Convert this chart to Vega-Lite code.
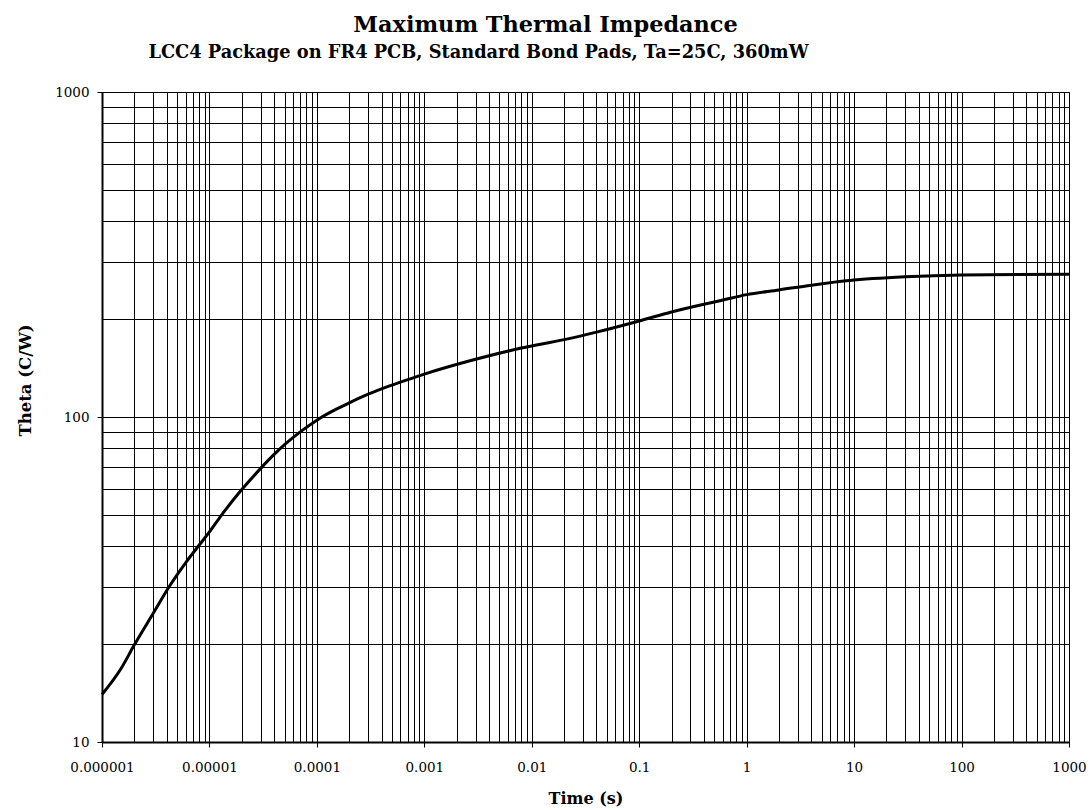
{
  "$schema": "https://vega.github.io/schema/vega-lite/v6.json",
  "autosize": "none",
  "width": 967,
  "height": 650,
  "padding": {"left": 102, "top": 92, "right": 22, "bottom": 68},
  "background": "#ffffff",
  "config": {
    "view": {"stroke": "#000000", "strokeWidth": 1},
    "font": "DejaVu Serif",
    "axis": {"labelFont": "DejaVu Serif", "titleFont": "DejaVu Serif"},
    "title": {"font": "DejaVu Serif"}
  },
  "title": {
    "text": "Maximum Thermal Impedance",
    "anchor": "middle",
    "dx": -40,
    "dy": 27,
    "font": "DejaVu Serif",
    "fontSize": 22.4,
    "fontWeight": "bold",
    "color": "#000000",
    "baseline": "alphabetic",
    "offset": 16
  },
  "data": {
    "values": [
      {"time": 0.000001, "theta": 14},
      {"time": 0.0000015, "theta": 16.8},
      {"time": 0.000002, "theta": 19.9},
      {"time": 0.000003, "theta": 24.9},
      {"time": 0.0000042, "theta": 30},
      {"time": 0.000006, "theta": 35.6},
      {"time": 0.000008, "theta": 40.3},
      {"time": 0.00001, "theta": 44.3},
      {"time": 0.000013, "theta": 50},
      {"time": 0.00002, "theta": 59.8},
      {"time": 0.00003, "theta": 69.5},
      {"time": 0.00004, "theta": 76.7},
      {"time": 0.00005, "theta": 82.2},
      {"time": 0.00007, "theta": 90},
      {"time": 0.0001, "theta": 97.8},
      {"time": 0.00015, "theta": 105.5},
      {"time": 0.0002, "theta": 110.5},
      {"time": 0.0003, "theta": 117.5},
      {"time": 0.0004, "theta": 122},
      {"time": 0.0006, "theta": 128},
      {"time": 0.001, "theta": 135.5},
      {"time": 0.003, "theta": 150.5},
      {"time": 0.008, "theta": 163},
      {"time": 0.02, "theta": 173},
      {"time": 0.04, "theta": 182.5},
      {"time": 0.1, "theta": 197.5},
      {"time": 0.2, "theta": 210.5},
      {"time": 0.6, "theta": 229},
      {"time": 1, "theta": 238},
      {"time": 2, "theta": 246},
      {"time": 4, "theta": 254.5},
      {"time": 9, "theta": 263},
      {"time": 30, "theta": 270},
      {"time": 100, "theta": 273.5},
      {"time": 1000, "theta": 275}
    ]
  },
  "resolve": {"axis": {"x": "independent"}},
  "layer": [
    {
      "mark": {"type": "line", "color": "#000000", "strokeWidth": 3, "interpolate": "monotone"},
      "encoding": {
        "x": {
          "field": "time",
          "type": "quantitative",
          "scale": {"type": "log", "domain": [0.000001, 1000], "nice": false},
          "axis": {
            "orient": "bottom",
            "title": "Time (s)",
            "titleFont": "DejaVu Serif",
            "titleFontSize": 16,
            "titleFontWeight": "bold",
            "titleColor": "#000000",
            "titlePadding": 17,
            "values": [0.000001,0.000002,0.000003,0.000004,0.000005,0.000006,0.000007,0.000008,0.000009,
                       0.00001,0.00002,0.00003,0.00004,0.00005,0.00006,0.00007,0.00008,0.00009,
                       0.0001,0.0002,0.0003,0.0004,0.0005,0.0006,0.0007,0.0008,0.0009,
                       0.001,0.002,0.003,0.004,0.005,0.006,0.007,0.008,0.009,
                       0.01,0.02,0.03,0.04,0.05,0.06,0.07,0.08,0.09,
                       0.1,0.2,0.3,0.4,0.5,0.6,0.7,0.8,0.9,
                       1,2,3,4,5,6,7,8,9,
                       10,20,30,40,50,60,70,80,90,
                       100,200,300,400,500,600,700,800,900,1000],
            "labelExpr": "indexof([0.000001,0.00001,0.0001,0.001,0.01,0.1,1,10,100,1000], datum.value) >= 0 ? format(datum.value, '~f') : ''",
            "labelFont": "DejaVu Serif",
            "labelFontSize": 13.5,
            "labelColor": "#000000",
            "labelPadding": 13,
            "labelOverlap": false,
            "labelFlush": false,
            "grid": true,
            "gridColor": "#000000",
            "gridWidth": 1,
            "gridOpacity": 1,
            "domainColor": "#000000",
            "domainWidth": 2,
            "tickColor": "#000000",
            "tickSize": 5,
            "tickWidth": 1,
            "tickOpacity": {"condition": {"test": "indexof([0.000001,0.00001,0.0001,0.001,0.01,0.1,1,10,100,1000], datum.value) >= 0", "value": 1}, "value": 0}
          }
        },
        "y": {
          "field": "theta",
          "type": "quantitative",
          "scale": {"type": "log", "domain": [10, 1000], "nice": false},
          "axis": {
            "title": "Theta (C/W)",
            "titleFont": "DejaVu Serif",
            "titleFontSize": 16.5,
            "titleFontWeight": "bold",
            "titleColor": "#000000",
            "titlePadding": 21,
            "titleY": 288,
            "titleAlign": "center",
            "values": [10,20,30,40,50,60,70,80,90,100,200,300,400,500,600,700,800,900,1000],
            "labelExpr": "indexof([10,100,1000], datum.value) >= 0 ? datum.value + '' : ''",
            "labelFont": "DejaVu Serif",
            "labelFontSize": 13.5,
            "labelColor": "#000000",
            "labelPadding": 8,
            "labelOverlap": false,
            "labelFlush": false,
            "grid": true,
            "gridColor": "#000000",
            "gridWidth": 1,
            "gridOpacity": 1,
            "domainColor": "#000000",
            "domainWidth": 2,
            "tickColor": "#000000",
            "tickSize": 5,
            "tickWidth": 1,
            "tickOpacity": {"condition": {"test": "indexof([10,100,1000], datum.value) >= 0", "value": 1}, "value": 0}
          }
        }
      }
    },
    {
      "mark": {"type": "line", "strokeOpacity": 0},
      "encoding": {
        "x": {
          "field": "time",
          "type": "quantitative",
          "axis": {
            "orient": "top",
            "title": "LCC4 Package on FR4 PCB, Standard Bond Pads, Ta=25C, 360mW",
            "titleFont": "DejaVu Serif",
            "titleFontSize": 17.8,
            "titleFontWeight": "bold",
            "titleColor": "#000000",
            "titleX": 376,
            "titleY": -35,
            "titleAlign": "center",
            "titleBaseline": "alphabetic",
            "titleAngle": 0,
            "labels": false,
            "ticks": false,
            "domain": false,
            "grid": false
          }
        },
        "y": {"field": "theta", "type": "quantitative"}
      }
    }
  ]
}
